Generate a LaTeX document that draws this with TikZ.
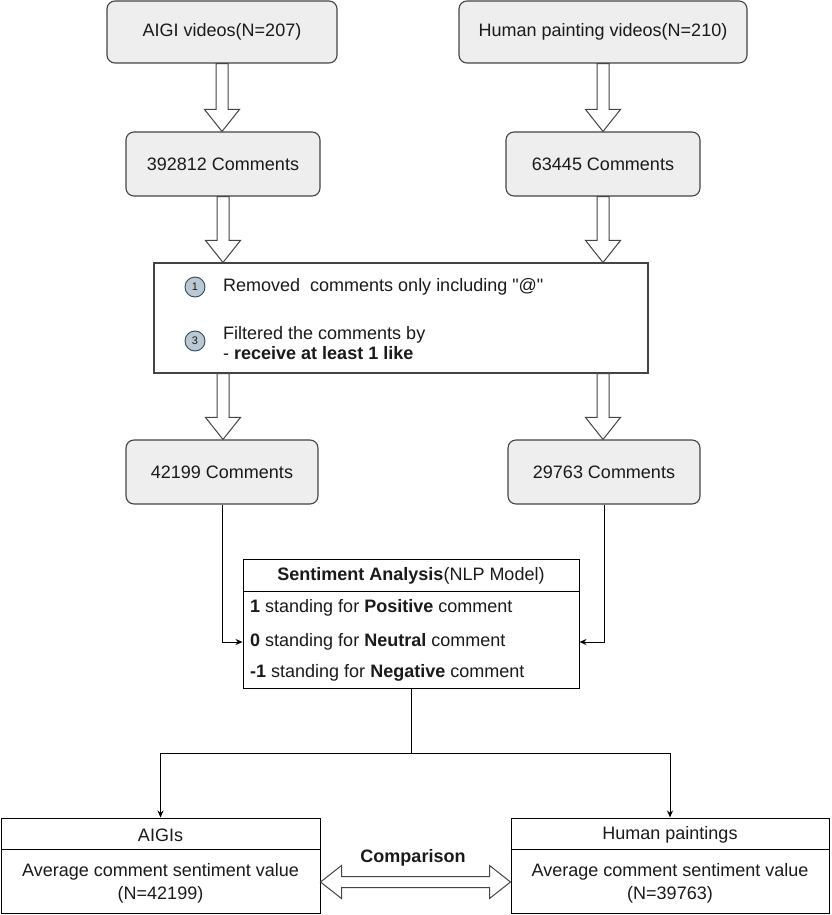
\documentclass[tikz,border=0pt]{standalone}
\usepackage{fontspec}
\setmainfont{Liberation Sans}
\newfontfamily\rawfont{Liberation Sans}[Ligatures=TeXOff]
\usetikzlibrary{calc,arrows.meta}
\definecolor{boxfill}{HTML}{EEEEEE}
\definecolor{boxline}{HTML}{444444}
\definecolor{circfill}{HTML}{BAC8D3}
\definecolor{circline}{HTML}{2F4A5F}
\definecolor{txt}{HTML}{1A1A1A}
\newcommand\fatdown[2]{%
  \path[fat] let \p1=(#1), \p2=(#2) in
    (\x1-6pt,\y1) -- (\x1-6pt,\y2+22pt) -- (\x1-17.5pt,\y2+22pt) -- (\x1,\y2)
    -- (\x1+17.5pt,\y2+22pt) -- (\x1+6pt,\y2+22pt) -- (\x1+6pt,\y1) -- cycle;}
\begin{document}
\begin{tikzpicture}[x=1pt,y=-1pt,
  every node/.style={font=\fontsize{18}{20}\selectfont, text=txt},
  gbox/.style={draw=boxline, fill=boxfill, rounded corners=8pt, line width=1.1pt, inner sep=0pt},
  fat/.style={draw=boxline, fill=white, line width=1pt, line join=miter},
  conn/.style={draw=black, line width=1pt, -{Stealth[length=7pt,width=6pt]}},
  num/.style={circle, draw=circline, fill=circfill, minimum size=20pt, inner sep=0pt,
    font=\fontsize{11}{11}\selectfont, line width=0.9pt},
  plainbox/.style={draw=black, fill=white, line width=1pt, inner sep=0pt},
  rowtxt/.style={anchor=west, inner sep=0pt}
]
\useasboundingbox (0,0) rectangle (831,915);

% top boxes
\node[gbox, minimum width=230pt, minimum height=62pt] (aigi) at (222,32) {AIGI videos(N=207)};
\node[gbox, minimum width=288pt, minimum height=62pt] (human) at (603,32) {Human painting videos(N=210)};
\node[gbox, minimum width=194pt, minimum height=64pt] (c1) at (223,164) {392812 Comments};
\node[gbox, minimum width=194pt, minimum height=64pt] (c2) at (603,164) {63445 Comments};

% filter box
\node[draw=boxline, fill=white, line width=1.1pt, minimum width=494pt, minimum height=110pt, inner sep=0pt] (filt) at (401,318) {};
\node[num] (n1) at (195,287) {1};
\node[num] (n3) at (195,341) {3};
\node[rowtxt] (t1) at (223,287) {Removed\ \ comments only including {\rawfont"@"}};
\node[rowtxt, align=left] (t3) at (223,343) {Filtered the comments by\\- \textbf{receive at least 1 like}};

\node[gbox, minimum width=192pt, minimum height=64pt] (c3) at (222,472) {42199 Comments};
\node[gbox, minimum width=192pt, minimum height=64pt] (c4) at (604,472) {29763 Comments};

% sentiment box
\node[plainbox, minimum width=336pt, minimum height=129pt] (sent) at (411,623.5) {};
\draw[line width=1pt] ($(sent.north west)+(0,33)$) -- ($(sent.north east)+(0,33)$);
\node (sh) at (411,576) {\textbf{Sentiment Analysis}(NLP Model)};
\node[rowtxt] (r1) at (250,608) {\textbf{1} standing for \textbf{Positive} comment};
\node[rowtxt] (r0) at (250,642) {\textbf{0} standing for \textbf{Neutral} comment};
\node[rowtxt] (rm) at (250,673) {\textbf{-1} standing for \textbf{Negative} comment};
\coordinate (inL) at (sent.west |- r0);
\coordinate (inR) at (sent.east |- r0);

% bottom boxes
\node[plainbox, minimum width=319pt, minimum height=95pt] (bl) at (160.5,865.5) {};
\node[plainbox, minimum width=318pt, minimum height=95pt] (br) at (670,865.5) {};
\draw[line width=1pt] ($(bl.north west)+(0,32)$) -- ($(bl.north east)+(0,32)$);
\draw[line width=1pt] ($(br.north west)+(0,32)$) -- ($(br.north east)+(0,32)$);
\node (hl) at (160.5,835) {AIGIs};
\node (hr) at (670,835) {Human paintings};
\node (al) at (160.5,872) {Average comment sentiment value};
\node (nl) at (160.5,895) {(N=42199)};
\node (ar) at (670,872) {Average comment sentiment value};
\node (nr) at (670,895) {(N=39763)};
\node (cmp) at (413,858) {\textbf{Comparison}};

% hollow arrows
\fatdown{aigi.south}{aigi.south |- c1.north}
\fatdown{human.south}{human.south |- c2.north}
\fatdown{c1.south}{c1.south |- filt.north}
\fatdown{c2.south}{c2.south |- filt.north}
\fatdown{c1.south |- filt.south}{c3.north}
\fatdown{c2.south |- filt.south}{c4.north}

% double hollow arrow
\path[fat] let \p1=($(bl.east)+(0,16.5)$), \p2=($(br.west)+(0,16.5)$) in
  (\x1,\y1) -- (\x1+21pt,\y1+16.5pt) -- (\x1+21pt,\y1+5.5pt) -- (\x2-21pt,\y1+5.5pt)
  -- (\x2-21pt,\y1+16.5pt) -- (\x2,\y1) -- (\x2-21pt,\y1-16.5pt) -- (\x2-21pt,\y1-5.5pt)
  -- (\x1+21pt,\y1-5.5pt) -- (\x1+21pt,\y1-16.5pt) -- cycle;

% connectors
\draw[conn] (c3.south) |- (inL);
\draw[conn] (c4.south) |- (inR);
\draw[line width=1pt] (sent.south) -- ++(0,65) coordinate (split);
\draw[conn] (split) -| (bl.north);
\draw[conn] (split) -| (br.north);
\end{tikzpicture}
\end{document}
